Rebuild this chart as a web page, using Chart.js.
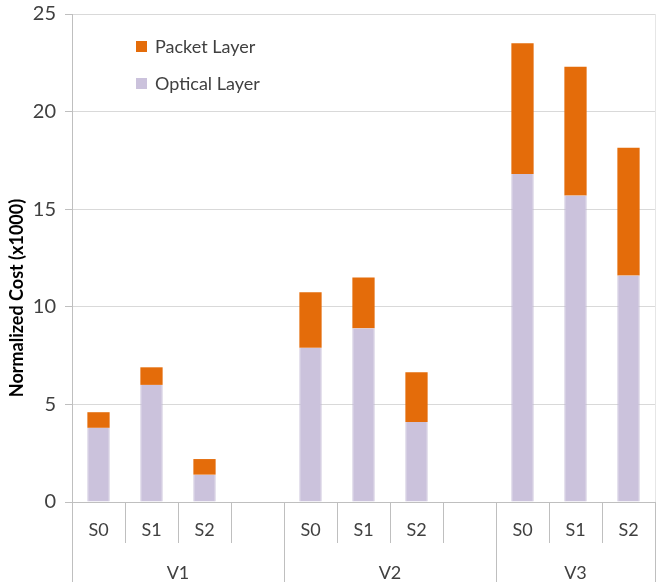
<!DOCTYPE html>
<html><head><meta charset="utf-8">
<script src="https://cdn.jsdelivr.net/npm/chart.js@4"></script>
<style>html,body{margin:0;padding:0;background:#fff}#wrap{width:660px;height:582px;position:relative}</style>
</head><body><div id="wrap"><canvas id="c" width="660" height="582"></canvas></div>
<script>
const categories = ['S0','S1','S2','','S0','S1','S2','','S0','S1','S2'];
const groupLabels = ['V1','V2','V3'];
const groupSizes = [4,4,3];
const opticalLayer = [3.8, 6.0, 1.4, null, 7.9, 8.9, 4.1, null, 16.8, 15.7, 11.6];
const packetLayer  = [0.8, 0.9, 0.8, null, 2.85, 2.6, 2.55, null, 6.7, 6.6, 6.55];
const yTicks = [0, 5, 10, 15, 20, 25];
const yTitle = 'Normalized Cost (x1000)';

const FONT = 'Lato, "Open Sans", sans-serif';
const TXT = '#404040';
const AXIS = '#bfbfbf';

const groupAxisPlugin = {
  id: 'groupAxis',
  afterDraw(chart) {
    const ctx = chart.ctx;
    const xs = chart.scales.x;
    const area = chart.chartArea;
    const n = categories.length;
    const w = xs.getPixelForValue(1) - xs.getPixelForValue(0);
    const bottom = chart.height;
    ctx.save();
    ctx.strokeStyle = AXIS;
    ctx.lineWidth = 1;
    const groupStart = [0];
    groupSizes.forEach((s, i) => groupStart.push(groupStart[i] + s));
    const isGroupEdge = (i) => groupStart.includes(i);
    for (let i = 0; i <= n; i++) {
      const x = Math.round(xs.getPixelForValue(Math.min(i, n - 1)) + (i === n ? w / 2 : -w / 2)) + 0.5;
      const long = isGroupEdge(i);
      ctx.beginPath();
      ctx.moveTo(x, area.bottom);
      ctx.lineTo(x, long ? bottom : area.bottom + 41);
      ctx.stroke();
    }
    const xr = Math.round(area.right) + 0.5;
    ctx.strokeStyle = '#e6e6e6';
    ctx.beginPath(); ctx.moveTo(xr, area.top); ctx.lineTo(xr, area.bottom); ctx.stroke();
    // group labels
    ctx.fillStyle = TXT;
    ctx.font = '18px ' + FONT;
    ctx.textAlign = 'center';
    ctx.textBaseline = 'middle';
    groupLabels.forEach((g, gi) => {
      const x0 = xs.getPixelForValue(groupStart[gi]) - w / 2;
      const x1 = xs.getPixelForValue(groupStart[gi + 1] - 1) + w / 2;
      ctx.fillText(g, (x0 + x1) / 2, area.bottom + 71);
    });
    // y-axis title
    ctx.save();
    ctx.translate(17, 298);
    ctx.rotate(-Math.PI / 2);
    ctx.fillStyle = '#000';
    ctx.font = 'bold 18px ' + FONT;
    ctx.fillText(yTitle, 0, 0);
    ctx.restore();
    // legend inside plot
    const items = chart.data.datasets.slice().reverse();
    ctx.font = '18px ' + FONT;
    ctx.textAlign = 'left';
    items.forEach((ds, k) => {
      const cy = 46 + k * 37;
      ctx.fillStyle = ds.backgroundColor;
      ctx.fillRect(136, cy - 5, 11, 11);
      ctx.fillStyle = TXT;
      ctx.fillText(ds.label, 155, cy + 1);
    });
    ctx.restore();
  }
};

new Chart(document.getElementById('c'), {
  type: 'bar',
  data: {
    labels: categories,
    datasets: [
      { label: 'Optical Layer', data: opticalLayer, backgroundColor: '#CBC2DC', borderColor: '#BDB3D1', borderWidth: {left:1,right:1}, borderSkipped: false },
      { label: 'Packet Layer', data: packetLayer, backgroundColor: '#E46C0A', borderWidth: 0 }
    ]
  },
  options: {
    responsive: false,
    animation: false,
    devicePixelRatio: 1,
    layout: { padding: { left: 0, right: 5, top: 13, bottom: 0 } },
    categoryPercentage: 1,
    barPercentage: 0.42,
    plugins: { legend: { display: false }, tooltip: { enabled: false } },
    scales: {
      x: {
        stacked: true,
        offset: true,
        grid: { display: false, drawTicks: false },
        border: { display: true, color: AXIS },
        ticks: { color: TXT, font: { family: FONT, size: 18 }, padding: 17, maxRotation: 0, autoSkip: false },
        afterFit(s) { s.height = 80; }
      },
      y: {
        stacked: true,
        min: 0, max: 25,
        afterBuildTicks(s) { s.ticks = yTicks.map(v => ({ value: v })); },
        grid: { color: '#d9d9d9', tickLength: 7, tickColor: AXIS },
        border: { display: true, color: AXIS },
        ticks: { color: TXT, font: { family: FONT, size: 20, lineHeight: 0.5 }, padding: 9 },
        afterFit(s) { s.width = 72; }
      }
    }
  },
  plugins: [groupAxisPlugin]
});
</script>
</body></html>
